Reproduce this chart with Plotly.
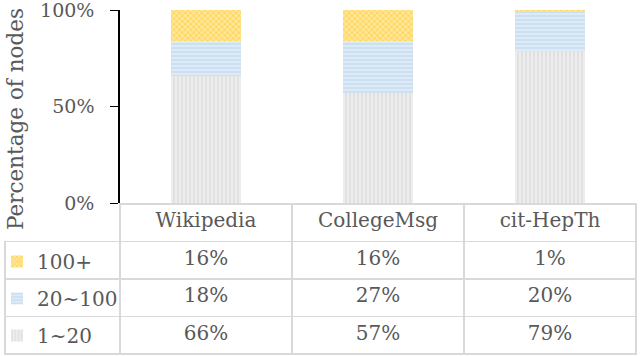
import plotly.graph_objects as go

# data
datasets = ['Wikipedia', 'CollegeMsg', 'cit-HepTh']
bins = ['1~20', '20~100', '100+']
share = {
    '1~20': [0.66, 0.57, 0.79],
    '20~100': [0.18, 0.27, 0.20],
    '100+': [0.16, 0.16, 0.01],
}
ytick_vals = [0, 0.5, 1]

FONT = 'DejaVu Serif'
TXT = '#595959'
GRID = '#D9D9D9'
CLEAR = 'rgba(0,0,0,0)'

styles = {
    '1~20': dict(bg='#EDEDED', fg='#D0D0D0', shape='|', rank=3),
    '20~100': dict(bg='#DDEBF7', fg='#B4CFEA', shape='-', rank=2),
    '100+': dict(bg='#FFE699', fg='#FFC000', shape='x', rank=1),
}

W, H = 640, 356


def px_x(p):
    return p / W


def px_y(p):
    return 1 - p / H


fig = go.Figure()

for b in bins:
    s = styles[b]
    fig.add_trace(go.Bar(
        x=datasets, y=share[b], name=b,
        legendgroup=b, legendrank=s['rank'],
        marker=dict(color=s['bg'], line=dict(width=0),
                    pattern=dict(shape=s['shape'], fgcolor=s['fg'],
                                 bgcolor=s['bg'], size=4, solidity=0.4)),
        hoverinfo='skip',
    ))

# data table under the plot
fmt = lambda v: f"{round(v * 100)}%"
cols = [['', '', '']] + [[fmt(share[b][j]) for b in bins[::-1]] for j in range(len(datasets))]
fig.add_trace(go.Table(
    domain=dict(x=[px_x(5), px_x(636)], y=[px_y(356), px_y(204)]),
    columnwidth=[115, 172, 172, 172],
    header=dict(values=[''] + datasets, height=37.5,
                line=dict(color=[CLEAR, GRID, GRID, GRID], width=1.5),
                fill=dict(color=CLEAR), align='center',
                font=dict(family=FONT, size=20, color=TXT)),
    cells=dict(values=cols, height=37.5,
               line=dict(color=GRID, width=1.5),
               fill=dict(color=CLEAR), align='center',
               font=dict(family=FONT, size=20, color=TXT)),
))

fig.add_annotation(text='Percentage of nodes', textangle=-90,
                   xref='paper', yref='paper', x=px_x(15), y=px_y(119),
                   xanchor='center', yanchor='middle',
                   showarrow=False, font=dict(family=FONT, size=21.5, color=TXT))

fig.update_layout(
    width=W, height=H,
    margin=dict(l=0, r=0, t=0, b=0, autoexpand=False),
    paper_bgcolor='white', plot_bgcolor='white',
    barmode='stack', bargap=0.59,
    font=dict(family=FONT, size=20, color=TXT),
    showlegend=True,
    legend=dict(x=px_x(-3), y=px_y(242), xanchor='left', yanchor='top',
                traceorder='grouped', tracegroupgap=8,
                bgcolor=CLEAR, font=dict(family=FONT, size=20, color=TXT),
                itemwidth=30),
    xaxis=dict(domain=[px_x(120), px_x(636)], showticklabels=False, automargin=False,
               showline=False, showgrid=False, zeroline=False, ticks=''),
    yaxis=dict(domain=[px_y(203), px_y(10)], range=[0, 1], automargin=False,
               tickvals=ytick_vals, tickformat='.0%', ticklabeloverflow='allow',
               showgrid=False, zeroline=False, showline=True,
               linecolor='black', linewidth=1.5, ticks='outside', ticklen=8,
               tickcolor='black', ticklabelstandoff=12,
               tickfont=dict(family=FONT, size=19, color=TXT)),
)

# drop the default 8px page margin so the figure sits in the corner
fig.write_html("out.html", config={'displayModeBar': False},
               post_script="document.body.style.margin='0';")
